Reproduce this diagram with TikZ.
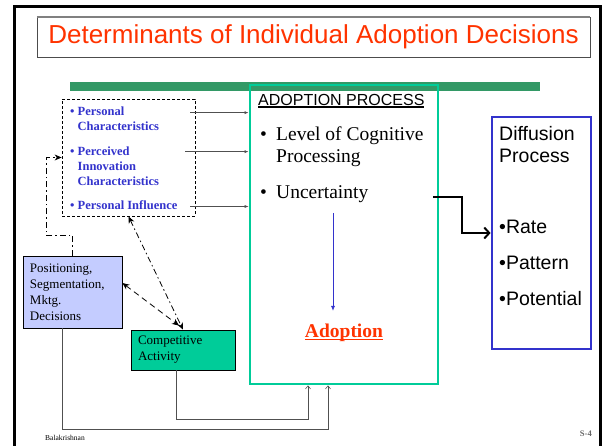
\documentclass[tikz,border=0pt]{standalone}
\usepackage{fontspec}
\setmainfont{Liberation Serif}
\setsansfont{Liberation Sans}
\usetikzlibrary{positioning,arrows.meta}
\definecolor{titlered}{RGB}{255,51,0}
\definecolor{bargreen}{RGB}{51,153,102}
\definecolor{procgreen}{RGB}{0,204,153}
\definecolor{itemblue}{RGB}{51,51,204}
\definecolor{boxblue}{RGB}{196,204,255}
\definecolor{linegray}{RGB}{80,80,80}
\newcommand{\thickul}[1]{\setbox0\hbox{#1}\rlap{\rule[-2.6pt]{\wd0}{1.4pt}}\box0}

\begin{document}
\begin{tikzpicture}[
			x=1pt, y=-1pt,
			>=Latex,
			box/.style={
					rectangle,
					draw=black,
					thick,
					align=left,
					inner xsep=7pt,
					inner ysep=0pt
				},
			smallbox/.style={box, font=\fontsize{13}{16}\selectfont},
			factor/.style={anchor=base west, align=left, inner sep=0pt, text=itemblue, font=\fontsize{12.5}{15}\selectfont\bfseries},
			stage/.style={anchor=base west, align=left, inner sep=0pt, font=\fontsize{19.5}{22}\selectfont},
			diffitem/.style={anchor=base west, align=left, inner sep=0pt, font=\sffamily\fontsize{19.5}{22}\selectfont},
			feed/.style={->, >={Latex[length=4pt,width=3pt]}, linegray, semithick},
			back/.style={->, >={Straight Barb[length=3pt,width=5pt]}, linegray, semithick},
			linkdd/.style={thick, dash pattern=on 6pt off 3pt on 1.5pt off 3pt, >={Stealth[length=7pt,width=6pt]}},
			linkd/.style={thick, dash pattern=on 6pt off 4pt, >={Stealth[length=7pt,width=6pt]}}
		]
		\useasboundingbox (0,0) rectangle (603,445);

		% Frame and title
		\draw[line width=3pt] (14,446) -- (14,6) -- (600,6) -- (600,446);
		\node[draw=black!70, thin, minimum width=553pt, minimum height=40pt, inner sep=0pt,
			font=\sffamily\fontsize{26}{30}\selectfont, text=titlered] (title) at (313.5,37)
			{Determinants of Individual Adoption Decisions};
		\draw[black!50, line width=1.5pt] (title.north west) -- (title.north east);
		\fill[bargreen] (70,81.5) rectangle (540,91);

		% Nodes (multi-line texts sit on the baseline of their last line)
		\node[draw, thick, dash pattern=on 3pt off 2pt, minimum width=133pt, minimum height=117pt] (factors) at (128.5,157.5) {};
		\node[factor] (pc) at (70,130) {• Personal\\\phantom{•} Characteristics};
		\node[factor] (pic) at (70,185) {• Perceived\\\phantom{•} Innovation\\\phantom{•} Characteristics};
		\node[factor] (pi) at (70,209) {• Personal Influence};

		\node[draw=procgreen, line width=2.8pt, minimum width=188pt, minimum height=299pt] (process) at (344,234.5) {};
		\node[anchor=base west, inner sep=0pt, font=\sffamily\fontsize{16}{18}\selectfont] (head) at (258,105) {\thickul{ADOPTION PROCESS}};
		\node[stage] (lcp) at (260,162) {\makebox[16pt][l]{•}Level of Cognitive\\\hspace*{16pt}Processing};
		\node[stage] (unc) at (260,198) {\makebox[16pt][l]{•}Uncertainty};
		\node[inner sep=0pt, text=titlered, font=\fontsize{19.5}{22}\selectfont\bfseries] (adopt) at (344,333) {\thickul{Adoption}};

		\node[draw=itemblue, line width=2.8pt, minimum width=99pt, minimum height=232pt] (diffusion) at (541.5,233) {};
		\node[diffitem] (diff) at (499,162) {Diffusion\\Process};
		\node[diffitem] (rate) at (499,233) {•Rate};
		\node[diffitem, below=36pt of rate.base west, anchor=base west] (pattern) {•Pattern};
		\node[diffitem, below=36pt of pattern.base west, anchor=base west] (potential) {•Potential};

		\node[smallbox, fill=boxblue, text width=85pt, minimum height=72pt] (positioning) at (72.5,292)
			{Positioning,\\Segmentation,\\Mktg.\\Decisions};
		\node[smallbox, fill=procgreen, text width=90pt, minimum height=40pt] (competitive) at (183,350)
			{Competitive\\Activity};

		% Arrows
		\draw[feed] ([xshift=-5pt,yshift=-6.5pt]factors.east |- pc.north) -- ([yshift=-6.5pt]process.west |- pc.north);
		\draw[feed] ([xshift=-10pt,yshift=-5.5pt]factors.east |- pic.north) -- ([yshift=-5.5pt]process.west |- pic.north);
		\draw[feed] ([xshift=-5pt,yshift=-6.5pt]factors.east |- pi.north) -- ([yshift=-6.5pt]process.west |- pi.north);
		\draw[->, itemblue, thick, >={Latex[length=5pt,width=4pt]}] ([xshift=-11pt,yshift=111pt]adopt.north) -- ([xshift=-11pt,yshift=13pt]adopt.north);
		\draw[line width=2pt, ->, >={Straight Barb[length=5pt,width=11pt]}] ([xshift=-6pt,yshift=1pt]process.east |- unc.base) -- ++(29,0) |- ([yshift=0pt]diffusion.west |- rate.base);

		\draw[linkdd, ->] (positioning.north) -- ++(0,-20) -| ([xshift=-15pt]factors.west) -- (factors.west);
		\draw[linkdd, <->] (factors.south) -- (competitive.north);
		\draw[linkd, <->] ([yshift=9pt]positioning.east) -- ([xshift=-4pt,yshift=4pt]competitive.north);

		\draw[back] ([xshift=-7pt]competitive.south) -- ++(0,49) -| ([xshift=-36pt]process.south);
		\draw[back] ([xshift=-10.5pt]positioning.south) -- ++(0,101) -| ([xshift=-16pt]process.south);

		% Footer
		\node[anchor=base west, inner sep=0pt, font=\fontsize{7.5}{9}\selectfont] (author) at (45,440) {Balakrishnan};
		\node[anchor=base east, inner sep=0pt, text=black!60, font=\fontsize{8.5}{10}\selectfont\bfseries] (slide) at (592,436) {S-4};

	\end{tikzpicture}
\end{document}
